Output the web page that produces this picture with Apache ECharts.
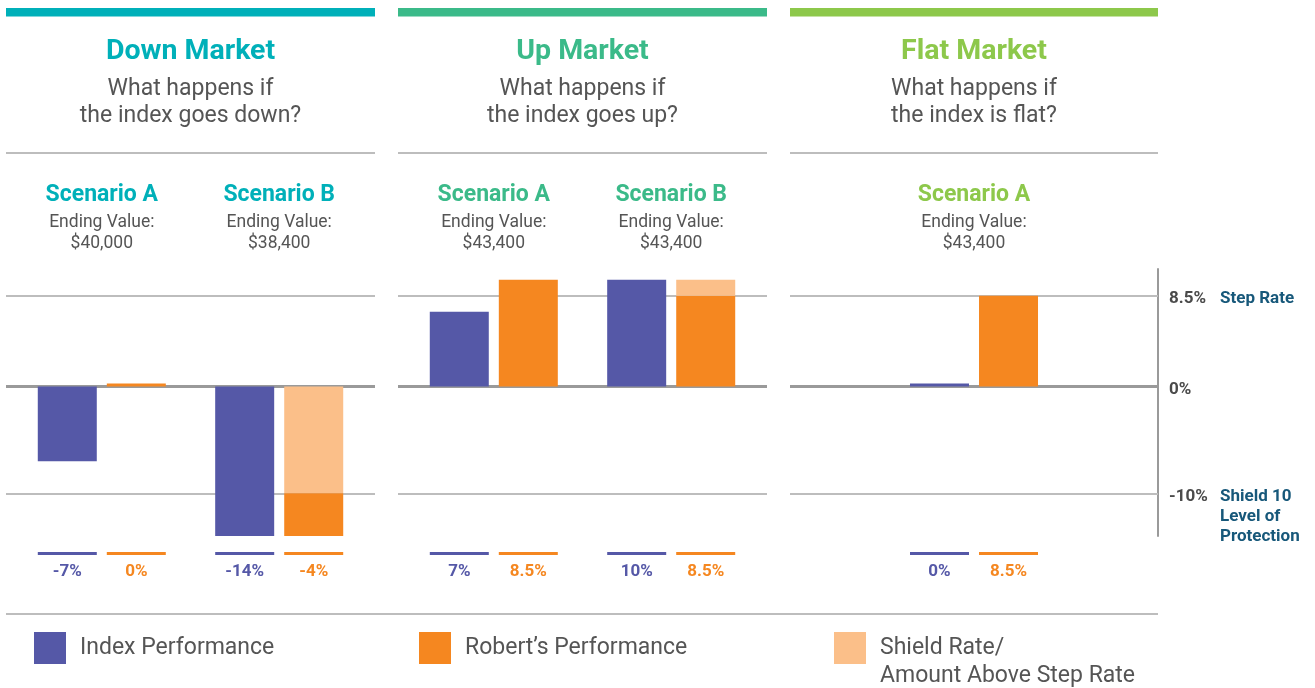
<!DOCTYPE html>
<html>
<head>
<meta charset="utf-8">
<script src="https://cdn.jsdelivr.net/npm/echarts@6/dist/echarts.min.js"></script>
<style>
html,body{margin:0;padding:0;background:#fff;}
#chart{width:1315px;height:688px;}
</style>
</head>
<body>
<div id="chart"></div>
<script>
// ---------------- data ----------------
const panelTitles = ['Down Market', 'Up Market', 'Flat Market'];
const panelQuestions = ['What happens if\nthe index goes down?', 'What happens if\nthe index goes up?', 'What happens if\nthe index is flat?'];
const scenarioNames = [['Scenario A', 'Scenario B'], ['Scenario A', 'Scenario B'], ['Scenario A']];
const endingLabel = 'Ending Value:';
const endingValues = [['$40,000', '$38,400'], ['$43,400', '$43,400'], ['$43,400']];
// bar heights as drawn (percent)
const indexPerformance = [[-7, -14], [7, 10], [0]];
const robertPerformance = [[0, -4], [10, 8.5], [8.5]];
const shieldRate = [[null, -10], [null, null], [null]];
const aboveStepRate = [[null, null], [null, 1.5], [null]];
// value labels under the bars
const indexLabels = [['-7%', '-14%'], ['7%', '10%'], ['0%']];
const robertLabels = [['0%', '-4%'], ['8.5%', '8.5%'], ['8.5%']];
// reference levels (right axis)
const referenceLevels = [8.5, 0, -10];
const referenceValueLabels = ['8.5%', '0%', '-10%'];
const referenceNames = [['Step Rate'], [], ['Shield 10', 'Level of', 'Protection']];
const legendNames = ['Index Performance', 'Robert\u2019s Performance', 'Shield Rate/Amount Above Step Rate'];
const legendTexts = ['Index Performance', 'Robert\u2019s Performance', ' \nShield Rate/\nAmount Above Step Rate'];

// ---------------- styles / layout ----------------
const C = { index: '#5558a7', robert: '#f58720', light: '#fbbf89', grid: '#bdbdbd', zero: '#9a9a9a', text: '#555555', refName: '#17587a', refVal: '#4a4a4a' };
const panelColors = ['#00b0b9', '#3bba89', '#8dc84b'];
const panelBox = [[6, 369], [398, 369], [790, 368]];
const panelXRange = [[0.46, 2.54], [0.46, 2.54], [0, 2]];
const GRID_TOP = 269, GRID_H = 267;
const Y_MIN = -14, Y_MAX = 11;
const BAR_W = 59, BAR_GAP = '17%';

const chart = echarts.init(document.getElementById('chart'), null, { renderer: 'canvas' });

const grids = [], xAxes = [], yAxes = [], series = [], titles = [], graphics = [];

panelTitles.forEach((pt, p) => {
  const [left, width] = panelBox[p];
  grids.push({ left: left, top: GRID_TOP, width: width, height: GRID_H, outerBoundsMode: 'none', containLabel: false });

  titles.push({
    text: pt, subtext: panelQuestions[p],
    left: left + width / 2, top: 36, textAlign: 'center', padding: 0, itemGap: 8,
    textStyle: { fontSize: 28.5, fontWeight: 'bold', color: panelColors[p], lineHeight: 32, fontFamily: 'Roboto' },
    subtextStyle: { fontSize: 23, lineHeight: 27, color: C.text, fontFamily: 'Roboto' }
  });

  const customX = scenarioNames[p].map((s, i) => i + 1);
  // top axis: scenario headers
  xAxes.push({
    type: 'value', gridIndex: p, position: 'top', min: panelXRange[p][0], max: panelXRange[p][1],
    axisLine: { show: false, onZero: false }, axisTick: { show: false }, splitLine: { show: false },
    axisLabel: {
      customValues: customX, margin: 15,
      formatter: v => { const i = Math.round(v) - 1; return '{t|' + scenarioNames[p][i] + '}\n{e|' + endingLabel + '}\n{e|' + endingValues[p][i] + '}'; },
      rich: {
        t: { fontSize: 23, fontWeight: 'bold', color: panelColors[p], lineHeight: 33, fontFamily: 'Roboto', align: 'center' },
        e: { fontSize: 17.5, color: C.text, lineHeight: 21, fontFamily: 'Roboto', align: 'center' }
      }
    }
  });
  // bottom axis: underline + value labels
  xAxes.push({
    type: 'value', gridIndex: p, position: 'bottom', min: panelXRange[p][0], max: panelXRange[p][1],
    axisLine: { show: false, onZero: false }, axisTick: { show: false }, splitLine: { show: false },
    axisLabel: {
      customValues: customX, margin: 16,
      formatter: v => { const i = Math.round(v) - 1; return '{ui| }{g| }{uo| }\n{li|' + indexLabels[p][i] + '}{g2| }{lo|' + robertLabels[p][i] + '}'; },
      rich: {
        ui: { width: BAR_W, height: 3, lineHeight: 3, fontSize: 1, backgroundColor: C.index, align: 'center' },
        uo: { width: BAR_W, height: 3, lineHeight: 3, fontSize: 1, backgroundColor: C.robert, align: 'center' },
        g: { width: 10, height: 3, lineHeight: 3, fontSize: 1, align: 'center' },
        g2: { width: 10, lineHeight: 34, fontSize: 1, align: 'center' },
        li: { width: BAR_W, lineHeight: 34, fontSize: 17, fontWeight: 'bold', color: C.index, align: 'center', fontFamily: 'Roboto' },
        lo: { width: BAR_W, lineHeight: 34, fontSize: 17, fontWeight: 'bold', color: C.robert, align: 'center', fontFamily: 'Roboto' }
      }
    }
  });

  const isLast = p === panelTitles.length - 1;
  yAxes.push({
    type: 'value', gridIndex: p, min: Y_MIN, max: Y_MAX, position: 'right', show: isLast,
    axisLine: { show: isLast, onZero: false, lineStyle: { color: '#9a9a9a', width: 2 } },
    axisTick: { show: false }, splitLine: { show: false },
    axisLabel: {
      show: isLast, customValues: referenceLevels, margin: 11,
      formatter: v => {
        const k = referenceLevels.indexOf(v);
        const names = referenceNames[k];
        let s = '{s| }\n';
        if (names.length <= 1) return s + '{v|' + referenceValueLabels[k] + '}' + (names.length ? '{n|' + names[0] + '}' : '');
        for (let j = 1; j < names.length; j++) s += '{e| }\n';
        s += '{v|' + referenceValueLabels[k] + '}{n|' + names[0] + '}';
        for (let j = 1; j < names.length; j++) s += '\n{p|' + names[j] + '}';
        return s;
      },
      rich: {
        v: { width: 51, fontSize: 17, fontWeight: 'bold', color: C.refVal, lineHeight: 20, fontFamily: 'Roboto' },
        n: { fontSize: 17, fontWeight: 'bold', color: C.refName, lineHeight: 20, fontFamily: 'Roboto' },
        p: { fontSize: 17, fontWeight: 'bold', color: C.refName, lineHeight: 20, padding: [0, 0, 0, 51], fontFamily: 'Roboto' },
        e: { fontSize: 10, lineHeight: 20 },
        s: { fontSize: 1, lineHeight: 6, height: 6 }
      }
    }
  });

  const xi = p * 2;
  // value first, scenario position second (so that stacking happens on the y value)
  const toPts = arr => arr.map((v, i) => [v == null ? '-' : v, i + 1]);
  const enc = { x: 1, y: 0 };
  series.push({
    type: 'bar', name: legendNames[0], xAxisIndex: xi, yAxisIndex: p, encode: enc,
    data: toPts(indexPerformance[p]), barWidth: BAR_W, barGap: BAR_GAP, barMinHeight: 3,
    itemStyle: { color: C.index },
    markLine: {
      silent: true, symbol: 'none', z: 1, animation: false, label: { show: false },
      data: referenceLevels.map(v => ({ yAxis: v, lineStyle: v === 0 ? { color: C.zero, width: 3, type: 'solid' } : { color: C.grid, width: 2, type: 'solid' } }))
    }
  });
  series.push({
    type: 'bar', name: legendNames[2], xAxisIndex: xi, yAxisIndex: p, stack: 'r' + p, encode: enc,
    data: toPts(shieldRate[p]), barWidth: BAR_W, barGap: BAR_GAP, itemStyle: { color: C.light }
  });
  series.push({
    type: 'bar', name: legendNames[1], xAxisIndex: xi, yAxisIndex: p, stack: 'r' + p, encode: enc,
    data: toPts(robertPerformance[p]), barWidth: BAR_W, barGap: BAR_GAP, barMinHeight: 3, itemStyle: { color: C.robert }
  });
  series.push({
    type: 'bar', name: legendNames[2], xAxisIndex: xi, yAxisIndex: p, stack: 'r' + p, encode: enc,
    data: toPts(aboveStepRate[p]), barWidth: BAR_W, barGap: BAR_GAP, itemStyle: { color: C.light }
  });

  graphics.push({ type: 'rect', shape: { x: left, y: 8, width: width, height: 8.5 }, style: { fill: panelColors[p] }, silent: true });
  graphics.push({ type: 'line', shape: { x1: left, y1: 153, x2: left + width, y2: 153 }, style: { stroke: C.grid, lineWidth: 2 }, silent: true });
});
graphics.push({ type: 'line', shape: { x1: 6, y1: 614, x2: 1158, y2: 614 }, style: { stroke: C.grid, lineWidth: 2 }, silent: true });

const legendBase = {
  orient: 'horizontal', itemWidth: 32, itemHeight: 32, icon: 'rect', padding: 0, selectedMode: false,
  textStyle: { fontSize: 23, color: C.text, fontFamily: 'Roboto', padding: [0, 0, 0, 9] }
};
const legends = [
  Object.assign({}, legendBase, { data: [legendNames[0]], left: 34, top: 632, formatter: () => legendTexts[0] }),
  Object.assign({}, legendBase, { data: [legendNames[1]], left: 419, top: 632, formatter: () => legendTexts[1] }),
  Object.assign({}, legendBase, { data: [legendNames[2]], left: 834, top: 606, formatter: () => legendTexts[2],
    textStyle: { fontSize: 23, color: C.text, fontFamily: 'Roboto', lineHeight: 28, padding: [0, 0, 0, 9] } })
];

chart.setOption({
  animation: false,
  backgroundColor: '#ffffff',
  textStyle: { fontFamily: 'Roboto' },
  title: titles,
  legend: legends,
  grid: grids,
  xAxis: xAxes,
  yAxis: yAxes,
  series: series,
  graphic: graphics
});
</script>
</body>
</html>
